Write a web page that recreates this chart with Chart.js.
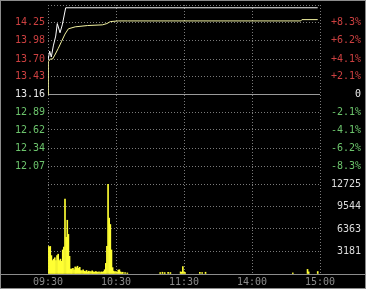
<!DOCTYPE html>
<html>
<head>
<meta charset="UTF-8">
<title>分时走势</title>
<script src="https://cdn.jsdelivr.net/npm/chart.js@4/dist/chart.umd.min.js"></script>
<style>
  html, body { margin: 0; padding: 0; background: #000; }
</style>
</head>
<body>
<canvas id="fenshi" width="366" height="289"></canvas>
<script>
// 昨收 and grid
var preClose = 13.16;
var priceStep = 0.2725;
var priceTicks = [12.07, 12.34, 12.62, 12.89, 13.16, 13.43, 13.70, 13.98, 14.25];
var pctLabels = ['-8.3%', '-6.2%', '-4.1%', '-2.1%', '0', '+2.1%', '+4.1%', '+6.2%', '+8.3%'];
var volMax = 12725;
var volTicks = [3181, 6363, 9544, 12725];
var timeTicks = [0, 60, 120, 180, 240];
var timeLabels = ['09:30', '10:30', '11:30', '14:00', '15:00'];

// minutes after 09:30
var priceT = [0, 1.5, 2.9, 4.7, 6.8, 8.2, 10.6, 12.6, 15.6, 238];
var priceV = [13.68, 13.82, 13.73, 13.90, 14.05, 14.24, 14.10, 14.22, 14.48, 14.48];

var avgT = [0, 0.3, 2, 4, 6, 9, 12, 15, 18, 24, 35, 48, 52, 55, 62, 70, 223, 224, 238];
var avgV = [13.16, 13.66, 13.70, 13.70, 13.76, 13.86, 13.97, 14.08, 14.16, 14.19, 14.21, 14.22, 14.24, 14.27, 14.28, 14.28, 14.28, 14.30, 14.30];

var volT = [0, 1, 2, 3, 4, 5, 6, 7, 8, 9, 10, 11, 12, 13, 14, 15, 16, 17, 18, 19, 20,
            21, 22, 23, 24, 25, 26, 27, 28, 29, 30, 31, 32, 33, 34, 35, 36, 37, 38, 39, 40,
            41, 42, 43, 44, 45, 46, 47, 48, 49, 50,
            51, 52, 53, 54, 55, 56, 57, 58, 59, 60, 61, 62, 63, 64, 65, 66, 68, 70,
            99, 101, 103, 106, 108, 117, 118, 119, 120, 121, 134, 136, 139, 216, 229, 230, 238];
var volV = [3950, 3850, 3900, 2600, 1900, 2100, 2300, 1900, 2600, 2800, 1900, 2100, 1800, 3400, 3800, 10600, 5200, 7600, 5600, 2500, 700,
            700, 800, 600, 1000, 900, 1100, 800, 950, 500, 450, 600, 400, 350, 500, 300, 400, 350, 300, 450, 300,
            250, 350, 300, 250, 300, 200, 300, 250, 350, 600,
            1500, 3900, 12725, 7900, 7000, 3400, 900, 400, 300, 350, 250, 550, 600, 300, 200, 250, 200, 150,
            200, 250, 200, 250, 200, 300, 250, 1050, 300, 200, 250, 200, 250, 150, 650, 300, 350];

function pts(xs, ys) {
    var out = [];
    for (var i = 0; i < xs.length; i++) out.push({x: xs[i], y: ys[i]});
    return out;
}

function isClose(v) { return Math.abs(v - preClose) < 0.001; }

function priceColor(ctx) {
    if (!ctx.tick) return '#e8e8e8';
    if (isClose(ctx.tick.value)) return '#e8e8e8';
    return ctx.tick.value > preClose ? '#cc4040' : '#6cc46c';
}

// fixed axis sizes, no label overhang padding
function fitY(w) {
    return function(s) { s.width = w; s.paddingTop = 0; s.paddingBottom = 0; };
}

var font = {family: 'DejaVu Sans Mono', size: 10};
var dots = [1, 2];

var frame = {
    id: 'frame',
    beforeDraw: function(chart) {
        var c = chart.ctx;
        c.save();
        c.fillStyle = '#000';
        c.fillRect(0, 0, chart.width, chart.height);
        c.restore();
    },
    afterDraw: function(chart) {
        var c = chart.ctx, a = chart.chartArea;
        c.save();
        c.strokeStyle = '#8c8c8c';
        c.lineWidth = 1;
        c.strokeRect(0.5, 0.5, chart.width - 1, chart.height - 1);
        c.beginPath();
        c.moveTo(0, Math.round(a.bottom) + 0.5);
        c.lineTo(chart.width, Math.round(a.bottom) + 0.5);
        c.stroke();
        c.restore();
    }
};

var pMin = preClose - 5 * priceStep;
var pMax = preClose + 5 * priceStep;

new Chart(document.getElementById('fenshi').getContext('2d'), {
    type: 'line',
    data: {
        datasets: [
            {
                type: 'line', label: '价格', data: pts(priceT, priceV),
                xAxisID: 'x', yAxisID: 'yP',
                borderColor: '#ffffff', borderWidth: 1, pointRadius: 0, tension: 0
            },
            {
                type: 'line', label: '均价', data: pts(avgT, avgV),
                xAxisID: 'x', yAxisID: 'yP',
                borderColor: '#f2f2a0', borderWidth: 1, pointRadius: 0, tension: 0
            },
            {
                type: 'bar', label: '成交量', data: pts(volT, volV),
                xAxisID: 'x', yAxisID: 'yVR',
                backgroundColor: '#ffff33', barThickness: 1
            }
        ]
    },
    options: {
        responsive: false,
        animation: false,
        layout: {padding: {top: 5, right: 5, bottom: 0, left: 0}},
        plugins: {legend: {display: false}, tooltip: {enabled: false}},
        scales: {
            x: {
                type: 'linear', position: 'bottom', min: 0, max: 240,
                offset: false,
                afterBuildTicks: function(s) { s.ticks = timeTicks.map(function(v) { return {value: v}; }); },
                afterFit: function(s) { s.height = 15; },
                ticks: {
                    autoSkip: false, maxRotation: 0, padding: 2, color: '#8c8c8c', font: font,
                    callback: function(v, i) { return timeLabels[i]; }
                },
                grid: {color: '#7a7a7a', drawTicks: false, offset: false},
                border: {display: false, dash: dots}
            },
            yP: {
                type: 'linear', position: 'left', stack: 'L', stackWeight: 179, weight: 2,
                min: pMin, max: pMax,
                afterBuildTicks: function(s) {
                    s.ticks = priceTicks.map(function(v) { return {value: v}; }).concat([{value: pMax}]);
                },
                afterFit: fitY(48),
                ticks: {
                    autoSkip: false, padding: 3, font: font, color: priceColor,
                    callback: function(v, i) { return i < priceTicks.length ? priceTicks[i].toFixed(2) : ''; }
                },
                grid: {
                    drawTicks: false,
                    color: function(ctx) { return ctx.tick && isClose(ctx.tick.value) ? '#9a9a9a' : '#7a7a7a'; }
                },
                border: {
                    display: false,
                    dash: function(ctx) { return ctx.tick && isClose(ctx.tick.value) ? [] : dots; }
                }
            },
            yVL: {
                type: 'linear', position: 'left', stack: 'L', stackWeight: 90, weight: 1,
                min: 0, max: volMax,
                afterFit: fitY(48),
                ticks: {display: false},
                grid: {display: false, drawTicks: false},
                border: {display: false}
            },
            yPR: {
                type: 'linear', position: 'right', stack: 'R', stackWeight: 179, weight: 1,
                min: pMin, max: pMax,
                afterBuildTicks: function(s) {
                    s.ticks = priceTicks.map(function(v) { return {value: v}; }).concat([{value: pMax}]);
                },
                afterFit: fitY(41),
                ticks: {
                    autoSkip: false, padding: 3, font: font, color: priceColor, crossAlign: 'far',
                    callback: function(v, i) { return i < pctLabels.length ? pctLabels[i] : ''; }
                },
                grid: {display: false, drawTicks: false},
                border: {display: false}
            },
            yVR: {
                type: 'linear', position: 'right', stack: 'R', stackWeight: 90, weight: 2,
                min: 0, max: volMax,
                afterBuildTicks: function(s) {
                    s.ticks = [{value: 0}].concat(volTicks.map(function(v) { return {value: v}; }));
                },
                afterFit: fitY(41),
                ticks: {
                    autoSkip: false, padding: 3, font: font, color: '#dcdcdc', crossAlign: 'far',
                    callback: function(v, i) { return i === 0 ? '' : String(volTicks[i - 1]); }
                },
                grid: {drawTicks: false, color: '#7a7a7a'},
                border: {display: false, dash: dots}
            }
        }
    },
    plugins: [frame]
});
</script>
</body>
</html>
